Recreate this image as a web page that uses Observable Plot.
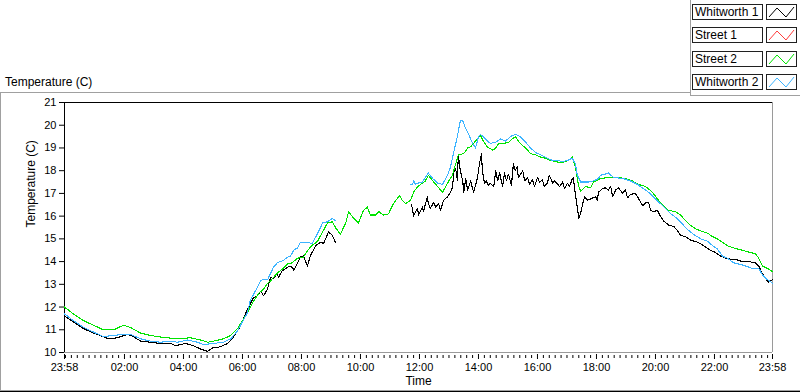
<!DOCTYPE html>
<html>
<head>
<meta charset="utf-8">
<script src="https://cdn.jsdelivr.net/npm/d3@7"></script>
<script src="https://cdn.jsdelivr.net/npm/@observablehq/plot@0.6"></script>
<style>
  html, body { margin: 0; padding: 0; background: #fff; }
  #wrap { position: relative; width: 800px; height: 392px; overflow: hidden; font-family: "Liberation Sans", Arial, sans-serif; color: #000; }
  #wrap svg { position: absolute; left: 0; top: 0; }
  .ln { position: absolute; }
  .title { position: absolute; left: 5px; top: 75px; font-size: 12px; line-height: 14px; white-space: nowrap; }
  .lgtext { position: absolute; box-sizing: border-box; width: 71px; height: 16px; border: 1px solid #202020; font-size: 12px; line-height: 14px; padding-left: 2px; white-space: nowrap; background: #fff; }
  .lgsw { position: absolute; box-sizing: border-box; width: 31px; height: 16px; border: 1px solid #202020; background: #fff; }
  .lgsw svg { position: absolute; left: 0; top: 0; }
</style>
</head>
<body>
<div id="wrap"></div>
<script>
// ---------- data (time in minutes since midnight; 23:58 of previous day = -2) ----------
const xTickMinutes = [-2, 120, 240, 360, 480, 600, 720, 840, 960, 1080, 1200, 1320, 1438];
const xTickLabels = ["23:58", "02:00", "04:00", "06:00", "08:00", "10:00", "12:00", "14:00", "16:00", "18:00", "20:00", "22:00", "23:58"];
const yTicks = [10, 11, 12, 13, 14, 15, 16, 17, 18, 19, 20, 21];
const legendNames = ["Whitworth 1", "Street 1", "Street 2", "Whitworth 2"];
const seriesColors = ["#000000", "#ff3c3c", "#00e400", "#3cb4ff"];

const whitworth1 = [
  [-2,11.6],[16,11.35],[37,11.05],[57,10.85],[77,10.7],[88,10.6],[106,10.65],[126,10.8],[138,10.7],[153,10.5],
  [173,10.45],[193,10.4],[214,10.4],[224,10.3],[244,10.4],[260,10.3],[275,10.15],[289,10.05],[299,10.2],[315,10.25],
  [330,10.4],[342,10.7],[356,11.15],[366,11.7],[376,12.15],[382,12.4],[391,12.5],[397,12.7],[403,12.5],[411,12.8],
  [417,13.3],[423,13.25],[431,13.5],[433,13.3],[441,13.6],[452,13.75],[454,13.8],[462,13.75],[464,13.6],[478,14.2],
  [484,14.25],[492,13.8],[498,14.25],[509,14.7],[519,14.85],[525,14.8],[535,15.3],[543,15.15],[549,14.85],
  [626,null],
  [704,16.5],[708,16.0],[716,16.35],[718,16.05],[726,16.4],[728,16.2],[736,16.85],[738,16.55],[742,16.35],[749,16.6],
  [753,16.4],[759,16.55],[763,16.25],[769,16.7],[777,16.85],[783,17.05],[787,17.25],[791,18.15],[795,17.95],[797,17.55],
  [799,18.7],[803,18.0],[808,17.55],[810,17.05],[814,17.65],[818,17.15],[824,17.55],[830,17.05],[834,17.35],[838,17.7],
  [842,18.3],[846,18.75],[848,18.0],[852,17.45],[856,17.55],[860,17.35],[864,17.45],[871,17.3],[875,18.0],[879,17.55],
  [883,17.9],[889,17.3],[893,17.9],[897,17.55],[901,17.85],[907,17.35],[911,18.3],[915,18.0],[919,18.2],[921,17.7],
  [930,18.0],[934,17.55],[940,17.7],[944,17.4],[950,17.6],[954,17.3],[960,17.7],[964,17.5],[970,17.6],[974,17.3],
  [980,17.45],[984,17.8],[991,17.45],[995,17.55],[1001,17.4],[1005,17.3],[1011,17.5],[1015,17.2],[1021,17.45],[1025,17.3],
  [1031,17.65],[1033,17.7],[1037,16.95],[1041,16.4],[1044,15.9],[1048,16.15],[1052,16.55],[1056,16.85],[1062,16.7],[1068,16.75],
  [1072,16.8],[1078,16.85],[1082,16.7],[1084,17.05],[1092,17.2],[1098,17.25],[1104,17.15],[1109,17.3],[1113,16.85],[1119,17.15],
  [1125,17.25],[1133,17.0],[1139,17.15],[1143,16.8],[1149,16.95],[1159,17.0],[1165,16.8],[1174,16.45],[1180,16.6],[1186,16.6],
  [1190,16.25],[1196,16.2],[1204,16.25],[1210,16.0],[1216,15.8],[1227,15.6],[1237,15.55],[1245,15.35],[1251,15.15],[1261,15.1],
  [1271,14.95],[1286,14.85],[1298,14.7],[1312,14.5],[1322,14.4],[1332,14.25],[1342,14.15],[1353,14.1],[1363,14.1],[1377,14.0],
  [1389,14.0],[1403,13.95],[1410,13.8],[1418,13.45],[1424,13.25],[1430,13.1],[1438,13.2]
];

const street1 = [];

const street2 = [
  [-2,12.0],[16,11.7],[37,11.4],[57,11.2],[77,11.0],[98,11.0],[118,11.2],[132,11.1],[153,10.85],[173,10.75],
  [193,10.68],[214,10.63],[234,10.6],[254,10.65],[275,10.55],[289,10.45],[301,10.5],[321,10.6],[336,10.75],[350,11.05],
  [360,11.4],[370,11.75],[382,12.25],[393,12.6],[403,12.8],[411,13.05],[417,13.15],[431,13.5],[443,13.7],[452,13.9],
  [458,13.9],[472,14.15],[484,14.2],[498,14.65],[513,14.9],[519,15.15],[533,15.7],[543,15.75],[549,15.5],[559,15.2],
  [570,15.7],[576,16.2],[586,15.9],[596,15.7],[606,16.25],[614,16.4],[620,16.05],[631,16.05],[637,16.2],[647,16.05],
  [657,16.1],[667,16.55],[679,16.9],[685,16.7],[692,16.55],[702,16.7],[708,17.05],[716,17.3],[726,17.45],[732,17.55],
  [738,17.8],[747,17.55],[757,17.3],[767,17.05],[777,17.45],[787,17.8],[793,18.25],[799,18.7],[810,18.75],[818,19.0],
  [824,19.05],[830,19.2],[838,19.4],[844,19.55],[850,19.3],[858,19.05],[869,18.9],[875,19.0],[881,19.2],[891,19.2],
  [901,19.25],[909,19.4],[915,19.5],[921,19.3],[930,19.1],[936,19.0],[946,18.75],[956,18.7],[966,18.6],[976,18.55],
  [986,18.45],[997,18.4],[1007,18.35],[1017,18.4],[1027,18.5],[1031,18.6],[1037,18.15],[1044,17.3],[1048,17.1],[1058,17.3],
  [1068,17.25],[1074,17.5],[1088,17.65],[1102,17.7],[1123,17.7],[1139,17.65],[1153,17.55],[1165,17.4],[1180,17.3],[1194,17.05],
  [1206,16.7],[1216,16.45],[1227,16.25],[1241,16.2],[1251,16.05],[1261,15.8],[1271,15.6],[1281,15.45],[1292,15.35],[1306,15.25],
  [1316,15.1],[1326,15.0],[1336,14.85],[1346,14.7],[1359,14.6],[1377,14.5],[1393,14.4],[1403,14.35],[1410,14.15],[1418,13.8],
  [1428,13.7],[1438,13.55]
];

const whitworth2 = [
  [-2,11.7],[16,11.4],[37,11.1],[57,10.9],[77,10.7],[98,10.75],[118,10.8],[132,10.8],[153,10.6],[173,10.5],
  [193,10.45],[214,10.5],[228,10.45],[248,10.55],[269,10.45],[281,10.35],[301,10.4],[321,10.45],[336,10.6],[350,10.95],
  [360,11.35],[370,11.75],[376,12.3],[391,12.9],[397,13.15],[401,13.2],[411,13.2],[423,13.75],[431,13.95],[443,14.05],
  [452,14.2],[458,14.25],[464,14.5],[472,14.6],[478,14.85],[488,14.85],[502,14.8],[513,15.25],[523,15.7],[533,15.75],
  [543,15.9],[549,15.8],
  [626,null],
  [702,17.4],[706,17.4],[708,17.55],[712,17.4],[716,17.45],[726,17.5],[732,17.7],[738,17.9],[747,17.65],[757,17.45],
  [767,17.4],[777,17.8],[783,18.15],[789,18.75],[797,19.5],[803,20.2],[808,20.2],[814,19.85],[820,19.6],[828,19.2],
  [834,19.0],[840,19.5],[844,19.6],[854,19.4],[864,19.2],[875,19.25],[885,19.4],[895,19.3],[905,19.5],[915,19.6],
  [925,19.5],[936,19.25],[946,19.0],[956,18.8],[966,18.7],[980,18.55],[991,18.45],[1001,18.45],[1011,18.4],[1021,18.45],
  [1031,18.55],[1037,18.3],[1041,17.8],[1048,17.5],[1064,17.5],[1074,17.55],[1084,17.65],[1088,17.8],[1098,17.85],[1104,17.9],
  [1115,17.7],[1135,17.65],[1149,17.55],[1163,17.4],[1176,17.2],[1186,17.05],[1200,16.75],[1210,16.55],[1220,16.35],[1231,16.1],
  [1241,15.95],[1251,15.75],[1261,15.5],[1271,15.3],[1281,15.15],[1292,15.0],[1306,14.9],[1316,14.7],[1326,14.55],[1336,14.25],
  [1346,14.15],[1359,13.95],[1377,13.85],[1397,13.7],[1410,13.7],[1418,13.4],[1428,13.2],[1438,13.05]
];

const seriesData = [whitworth1, street1, street2, whitworth2];
const minorTickMinutes = d3.range(0, 1438, 12).filter(m => !xTickMinutes.includes(m));

// ---------- chart ----------
const font = "'Liberation Sans', Arial, sans-serif";
const lineMarks = seriesData.map((s, i) =>
  Plot.line(s, {x: d => d[0], y: d => d[1], stroke: seriesColors[i], strokeWidth: 1.1, shapeRendering: "crispEdges"})
);

const chart = Plot.plot({
  width: 800,
  height: 392,
  marginLeft: 64,
  marginRight: 28,
  marginTop: 102,
  marginBottom: 40,
  style: {fontFamily: font, fontSize: "11px", color: "#000", background: "transparent", overflow: "visible"},
  x: {domain: [xTickMinutes[0], xTickMinutes[xTickMinutes.length - 1]]},
  y: {domain: [yTicks[0], yTicks[yTicks.length - 1]]},
  marks: [
    Plot.ruleY([yTicks[0]], {stroke: "#9a9a9a"}),
    Plot.ruleX([xTickMinutes[xTickMinutes.length - 1]], {stroke: "#9a9a9a"}),
    Plot.ruleY([yTicks[yTicks.length - 1]], {stroke: "#000"}),
    Plot.ruleX([xTickMinutes[0]], {stroke: "#000"}),
    ...lineMarks,
    Plot.axisX({ticks: minorTickMinutes, tickSize: 3, dy: 3, tickFormat: () => "", label: null, stroke: "#000"}),
    Plot.axisX({ticks: xTickMinutes, tickSize: 5, dy: 2, tickPadding: 4,
      tickFormat: d => xTickLabels[xTickMinutes.indexOf(d)], label: null, stroke: "#000", fill: "#000", fontSize: 11}),
    Plot.axisY({ticks: yTicks, tickSize: 5, tickPadding: 3, label: null, stroke: "#000", fill: "#000", fontSize: 11}),
    Plot.text(["Temperature (C)"], {frameAnchor: "left", dx: -33, rotate: -90, fontSize: 12, fill: "#000"}),
    Plot.text(["Time"], {frameAnchor: "bottom", dy: 32, fontSize: 12, fill: "#000"})
  ]
});

const wrap = document.getElementById("wrap");
wrap.appendChild(chart);

function line(left, top, w, h, color) {
  const d = document.createElement("div");
  d.className = "ln";
  Object.assign(d.style, {left: left + "px", top: top + "px", width: w + "px", height: h + "px", background: color});
  wrap.appendChild(d);
}
// panel frame lines
line(0, 92, 690, 1, "#a0a0a0");
line(0, 92, 1, 300, "#a0a0a0");
line(690, 0, 1, 96, "#a0a0a0");
line(690, 95, 110, 1, "#a0a0a0");
line(0, 390, 800, 1, "#a0a0a0");
line(0, 391, 800, 1, "#000");

// title
const t = document.createElement("div");
t.className = "title";
t.textContent = "Temperature (C)";
wrap.appendChild(t);

// legend
legendNames.forEach((name, i) => {
  const top = 4 + Math.round(i * 23.4);
  const tb = document.createElement("div");
  tb.className = "lgtext";
  tb.style.left = "692px";
  tb.style.top = top + "px";
  tb.textContent = name;
  wrap.appendChild(tb);
  const sw = document.createElement("div");
  sw.className = "lgsw";
  sw.style.left = "766px";
  sw.style.top = top + "px";
  sw.innerHTML = `<svg width="29" height="14"><polyline points="2,12 10,3 19,12 27,2" fill="none" stroke="${seriesColors[i]}" stroke-width="1"/></svg>`;
  wrap.appendChild(sw);
});
</script>
</body>
</html>
